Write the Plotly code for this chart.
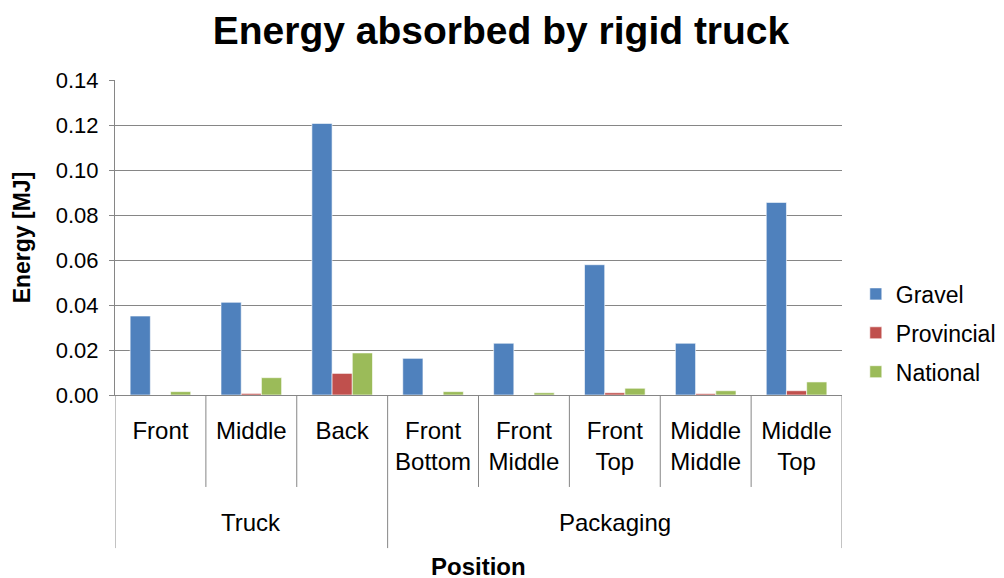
import plotly.graph_objects as go

# categories (inner level) and their outer groups
positions = ["Front", "Middle", "Back", "Front Bottom", "Front Middle",
             "Front Top", "Middle Middle", "Middle Top"]
tick_labels = ["Front", "Middle", "Back", "Front<br>Bottom", "Front<br>Middle",
               "Front<br>Top", "Middle<br>Middle", "Middle<br>Top"]
groups = ["Truck", "Packaging"]
group_sizes = [3, 5]

gravel = [0.0351, 0.0412, 0.1207, 0.0163, 0.0230, 0.0579, 0.0230, 0.0856]
provincial = [0.0, 0.0007, 0.0096, 0.0, 0.0, 0.0010, 0.0006, 0.0019]
national = [0.0015, 0.0077, 0.0187, 0.0015, 0.0010, 0.0030, 0.0019, 0.0058]

series = [("Gravel", gravel, "#4F81BD"),
          ("Provincial", provincial, "#C0504D"),
          ("National", national, "#9BBB59")]

FONT = "Liberation Sans, Arial, sans-serif"
AXIS_GREY = "#868686"

fig = go.Figure()
for name, vals, color in series:
    fig.add_trace(go.Bar(
        x=positions, y=vals, name=name, legendgroup=name,
        marker=dict(color=color, line=dict(color="rgba(255,255,255,0.6)", width=1)),
    ))

# divider lines below the axis: short between positions, long between groups
shapes = []
bounds = [i + 0.5 for i in range(-1, len(positions))]
group_edges = [-0.5]
for n in group_sizes:
    group_edges.append(group_edges[-1] + n)
for b in bounds:
    long = b in group_edges
    shapes.append(dict(type="line", xref="x", yref="paper", x0=b, x1=b,
                       y0=0, y1=-0.486 if long else -0.292,
                       line=dict(color=AXIS_GREY, width=1)))

annotations = []
for g, lo, hi in zip(groups, group_edges[:-1], group_edges[1:]):
    annotations.append(dict(x=(lo + hi) / 2, xref="x", y=-0.406, yref="paper",
                            text=g, showarrow=False, yanchor="middle",
                            font=dict(size=24, color="black", family=FONT)))
annotations.append(dict(x=0.5, xref="paper", y=-0.543, yref="paper",
                        text="<b>Position</b>", showarrow=False, yanchor="middle",
                        font=dict(size=24, color="black", family=FONT)))

# the page body adds an 8px offset, so the figure is drawn 8px smaller
fig.update_layout(
    title=dict(text="<b>Energy absorbed by rigid truck</b>", x=0.495, xanchor="center",
               y=0.96, yanchor="middle",
               font=dict(size=39, color="black", family=FONT)),
    barmode="group",
    bargap=0.333,
    bargroupgap=0,
    width=996, height=570,
    margin=dict(l=107, r=162, t=72, b=183, autoexpand=False),
    plot_bgcolor="white",
    paper_bgcolor="white",
    font=dict(family=FONT, color="black"),
    xaxis=dict(
        tickmode="array", tickvals=positions, ticktext=tick_labels,
        tickfont=dict(size=24, color="black"),
        ticks="outside", ticklen=14, tickcolor="rgba(0,0,0,0)",
        showline=True, linecolor=AXIS_GREY, linewidth=1,
        showgrid=False, range=[-0.5, len(positions) - 0.5],
        automargin=False,
    ),
    yaxis=dict(
        title=dict(text="<b>Energy [MJ]</b>", font=dict(size=23, color="black"), standoff=18),
        range=[0, 0.14], dtick=0.02, tickformat=".2f",
        tickfont=dict(size=22, color="black"),
        ticks="outside", ticklen=5, tickcolor=AXIS_GREY, ticklabelstandoff=6,
        showline=True, linecolor=AXIS_GREY, linewidth=1,
        showgrid=True, gridcolor=AXIS_GREY, gridwidth=1,
        zeroline=False, automargin=False,
    ),
    legend=dict(x=1.019, y=0.197, xanchor="left", yanchor="middle",
                font=dict(size=23, color="black"), tracegroupgap=6,
                bgcolor="rgba(0,0,0,0)"),
    shapes=shapes,
    annotations=annotations,
)

fig.write_html("out.html")
